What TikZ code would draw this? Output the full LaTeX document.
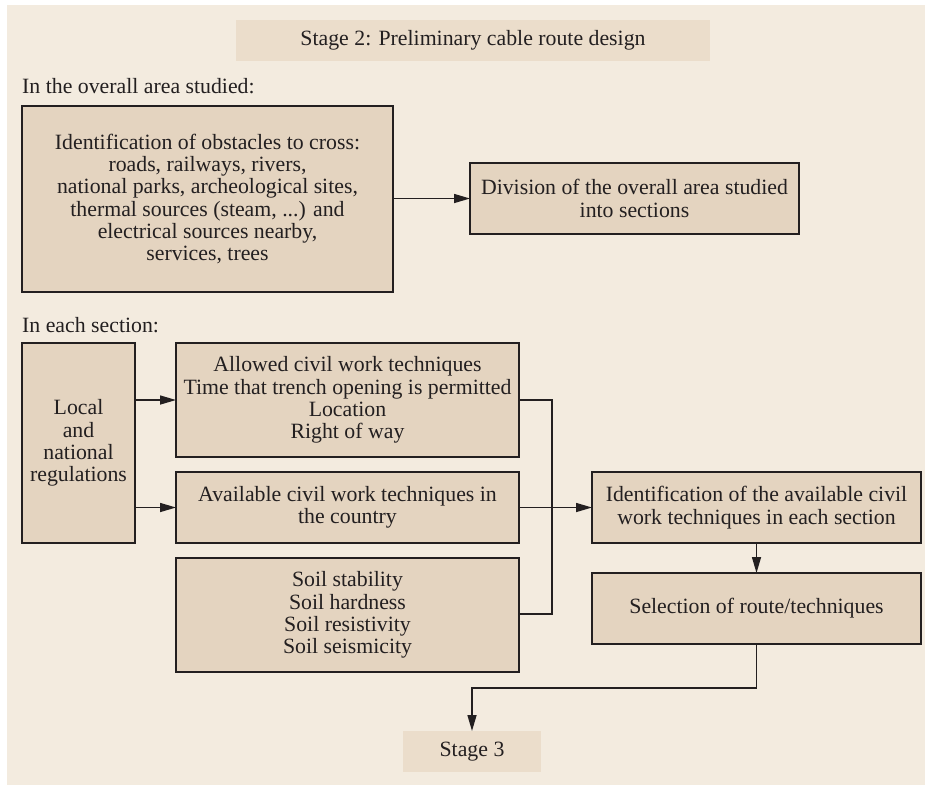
\documentclass[tikz,border=0pt]{standalone}
\usepackage{fontspec}
\setmainfont{Liberation Serif}
\usetikzlibrary{arrows.meta}
\definecolor{pagebg}{HTML}{F3EBDF}
\definecolor{boxfill}{HTML}{E4D4C0}
\definecolor{stagefill}{HTML}{EBDDCB}
\definecolor{ink}{HTML}{231F20}
\begin{document}
\begin{tikzpicture}[x=1pt,y=-1pt,
  font=\fontsize{21.8}{22.3}\selectfont,
  stepbox/.style={draw=ink, fill=boxfill, line width=1.3pt, align=center,
    inner sep=0pt, outer sep=0pt, text=ink},
  stagebox/.style={fill=stagefill, align=center, inner sep=0pt, outer sep=0pt, text=ink},
  label/.style={anchor=base west, inner sep=0pt, text=ink},
  link/.style={draw=ink, line width=1.5pt},
  arrow/.style={link, -{Triangle[length=16pt,width=9pt]}}]
  % page and background
  \useasboundingbox (0,0) rectangle (925,785);
  \fill[white] (0,0) rectangle (925,785);
  \fill[pagebg] (7,5) rectangle (925,785);

  % headings
  \node[stagebox, minimum width=474pt, minimum height=41pt] (stage2) at (473,40.5)
    {Stage 2: Preliminary cable route design};
  \node[label] (overall) at (22,93) {In the overall area studied:};
  \node[label] (each) at (22,332) {In each section:};

  % overall area
  \node[stepbox, minimum width=371pt, minimum height=186pt] (obst) at (207.5,199)
    {Identification of obstacles to cross:\\roads, railways, rivers,\\national parks, archeological sites,\\thermal sources (steam, ...) and\\electrical sources nearby,\\services, trees};
  \node[stepbox, minimum width=329pt, minimum height=71pt] (div) at (634.5,198.5)
    {Division of the overall area studied\\into sections};

  % each section
  \node[stepbox, minimum width=113pt, minimum height=200pt] (local) at (78.5,443)
    {Local\\and\\national\\regulations};
  \node[stepbox, minimum width=343pt, minimum height=114pt] (allowed) at (347.5,400)
    {Allowed civil work techniques\\Time that trench opening is permitted\\Location\\Right of way};
  \node[stepbox, minimum width=343pt, minimum height=71pt] (avail) at (347.5,507.5)
    {Available civil work techniques in\\the country};
  \node[stepbox, minimum width=343pt, minimum height=114pt] (soil) at (347.5,615)
    {Soil stability\\Soil hardness\\Soil resistivity\\Soil seismicity};
  \node[stepbox, minimum width=329pt, minimum height=71pt] (ident) at (756.5,507.5)
    {Identification of the available civil\\work techniques in each section};
  \node[stepbox, minimum width=329pt, minimum height=71pt] (select) at (756.5,608.5)
    {Selection of route/techniques};
  \node[stagebox, minimum width=138pt, minimum height=41pt] (stage3) at (472,751.5)
    {Stage 3};

  % connectors
  \coordinate (busx) at (552,0);
  \coordinate (turn) at (0,688);
  \draw[arrow] (obst.east |- div.west) -- (div.west);
  \draw[arrow] (local.east |- 0,400) -- (allowed.west |- 0,400);
  \draw[arrow] (local.east |- avail.west) -- (avail.west);
  \draw[link] (allowed.east |- 0,400) -- (busx |- 0,400) -- (busx |- 0,614) -- (soil.east |- 0,614);
  \draw[arrow] (avail.east) -- (ident.west);
  \draw[arrow] (ident.south) -- (select.north);
  \draw[arrow] (select.south) -- (select.south |- turn) -- (stage3.north |- turn) -- (stage3.north);
\end{tikzpicture}
\end{document}
